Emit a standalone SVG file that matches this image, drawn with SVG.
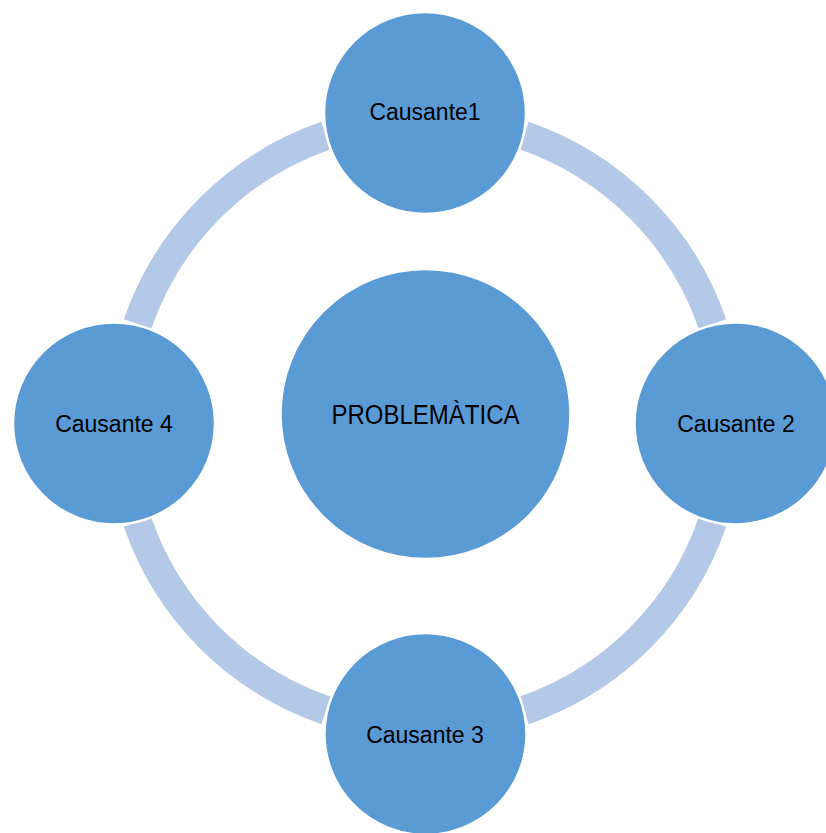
<svg xmlns="http://www.w3.org/2000/svg" width="826" height="833" viewBox="0 0 826 833">
  <style>
    .ring { fill: none; stroke: #B4C8E7; stroke-width: 29; stroke-linecap: butt; }
    .node { fill: #5B9BD5; stroke: #FFFFFF; stroke-width: 2.5; }
    .label { font-family: "Liberation Sans", Arial, sans-serif; font-size: 23px; fill: #000000; text-anchor: middle; }
    .core { font-size: 27px; }
  </style>
  <rect width="826" height="833" fill="#FFFFFF"/>

  <!-- cycle arcs linking the outer nodes -->
  <g id="connectors">
    <path class="ring" d="M 523.97 135.56 A 304 304 0 0 1 712.44 324.03"/>
    <path class="ring" d="M 712.44 521.97 A 304 304 0 0 1 523.97 710.44"/>
    <path class="ring" d="M 326.03 710.44 A 304 304 0 0 1 137.56 521.97"/>
    <path class="ring" d="M 137.56 324.03 A 304 304 0 0 1 326.03 135.56"/>
  </g>

  <g id="problematica">
    <circle class="node" cx="425.5" cy="414" r="145"/>
    <text class="label core" x="425.5" y="423.5" textLength="188" lengthAdjust="spacingAndGlyphs">PROBLEMÀTICA</text>
  </g>

  <g id="causante1">
    <circle class="node" cx="425" cy="113" r="101"/>
    <text class="label" x="425" y="120">Causante1</text>
  </g>

  <g id="causante2">
    <circle class="node" cx="735.5" cy="423.5" r="101"/>
    <text class="label" x="736" y="432">Causante 2</text>
  </g>

  <g id="causante3">
    <circle class="node" cx="425.5" cy="734" r="101"/>
    <text class="label" x="425" y="743">Causante 3</text>
  </g>

  <g id="causante4">
    <circle class="node" cx="114" cy="423.5" r="101"/>
    <text class="label" x="114" y="431.5">Causante 4</text>
  </g>
</svg>
